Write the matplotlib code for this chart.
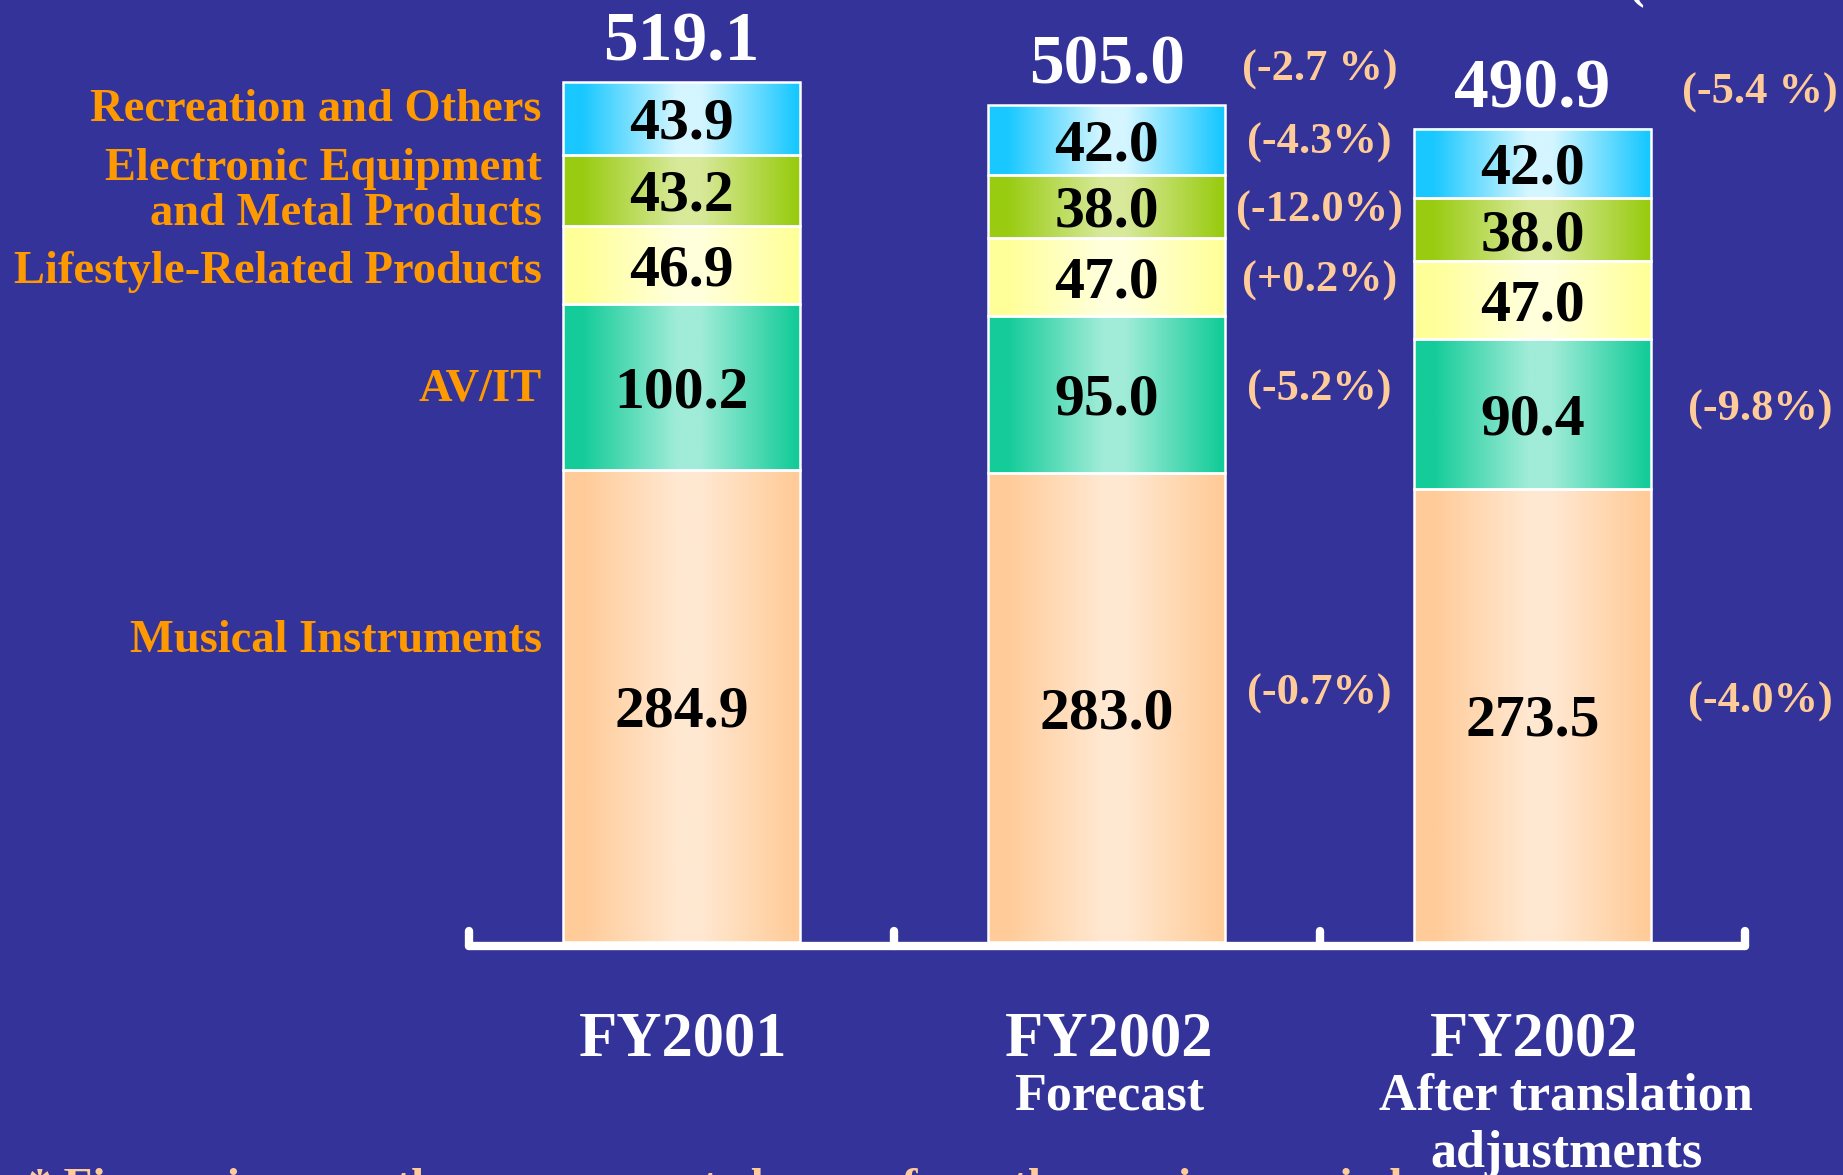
import numpy as np
import matplotlib.pyplot as plt
from matplotlib.colors import to_rgb

# net sales by business segment, billions of yen (stacked bottom to top)
segments = ["Musical Instruments", "AV/IT", "Lifestyle-Related Products",
            "Electronic Equipment\nand Metal Products", "Recreation and Others"]
periods = ["FY2001", "FY2002", "FY2002"]
period_notes = ["", "Forecast", "After translation\nadjustments"]

musical = [284.9, 283.0, 273.5]
av_it = [100.2, 95.0, 90.4]
lifestyle = [46.9, 47.0, 47.0]
electronic = [43.2, 38.0, 38.0]
recreation = [43.9, 42.0, 42.0]
totals = [519.1, 505.0, 490.9]

# change vs FY2001 (%), per segment bottom to top; None = not shown
chg_forecast = [-0.7, -5.2, 0.2, -12.0, -4.3]
chg_adjusted = [-4.0, -9.8, None, None, None]
chg_total = [None, -2.7, -5.4]

unit_note = "(Billions of yen)"
footnote = "* Figures in parentheses represent changes from the previous period"

BG = "#343399"
ORANGE = "#FF9900"
PEACH = "#FFCC99"
# (edge, centre) of each segment's horizontal gradient
seg_colors = [("#FFCB98", "#FFE8D1"), ("#14CC99", "#A0ECD8"), ("#FFFF99", "#FFFFDC"),
              ("#99CC11", "#D8E99A"), ("#19C8FF", "#D4F6FF")]

plt.rcParams["font.family"] = ["Liberation Serif", "DejaVu Serif"]
plt.rcParams["font.weight"] = "bold"

fig = plt.figure(figsize=(18.43, 11.75), dpi=100, facecolor=BG)
ax = fig.add_axes([0, 0, 1, 1])
ax.set_facecolor(BG)
ax.axis("off")

x = np.arange(len(periods))
width = 0.557

s = np.linspace(0, 1, 256)
ramp = np.clip((np.abs(s - 0.53) - 0.05) / 0.40, 0, 1)


def gradient(edge, centre):
    e, c = np.array(to_rgb(edge)), np.array(to_rgb(centre))
    return (c[None, :] * (1 - ramp[:, None]) + e[None, :] * ramp[:, None])[None, :, :]


stack = np.array([musical, av_it, lifestyle, electronic, recreation])
bottoms = np.vstack([np.zeros(len(periods)), np.cumsum(stack, axis=0)[:-1]])

for k in range(len(segments)):
    bars = ax.bar(x, stack[k], width, bottom=bottoms[k], fill=False,
                  edgecolor="white", linewidth=1.8, zorder=3)
    for i, bar in enumerate(bars):
        x0, y0 = bar.get_x(), bar.get_y()
        ax.imshow(gradient(*seg_colors[k]), extent=(x0, x0 + bar.get_width(), y0, y0 + bar.get_height()),
                  aspect="auto", interpolation="bilinear", zorder=2)
        ax.text(x[i], y0 + stack[k, i] / 2 - 12.4, f"{stack[k, i]:.1f}", ha="center",
                va="baseline", fontsize=43, color="black", zorder=4)

for i in range(len(periods)):
    ax.text(x[i], totals[i] + 13, f"{totals[i]:.1f}", ha="center", va="baseline",
            fontsize=50, color="white")

# baseline with end and divider ticks
base = -2.6
ax.plot([x[0] - 0.5, x[-1] + 0.5], [base, base], color="white", lw=6,
        solid_capstyle="round", zorder=1)
for t in np.arange(len(periods) + 1) - 0.5:
    ax.plot([t, t], [base, 6.6], color="white", lw=6, solid_capstyle="round", zorder=1)

# segment names on the left
label_base = [175.0, 327.1, 397.7, 432.7, 495.5]
label_x = x[0] - width / 2 - 0.05
for name, yb in zip(segments, label_base):
    lines = name.split("\n")
    for j, line in enumerate(lines):
        ax.text(label_x, yb + 27.2 * (len(lines) - 1 - j), line, ha="right", va="baseline",
                fontsize=33.5, color=ORANGE)

# percentage changes to the right of the FY2002 columns
lift = [11, 5, 0, 0, 1]
for i, chg, dx in [(1, chg_forecast, 0.5), (2, chg_adjusted, 0.535)]:
    for k, v in enumerate(chg):
        if v is None:
            continue
        mid = bottoms[k, i] + stack[k, i] / 2
        ax.text(x[i] + dx, mid - 9 + lift[k], f"({v:+.1f}%)", ha="center", va="baseline",
                fontsize=32, color=PEACH)
    ax.text(x[i] + dx, totals[i] + 15, f"({chg_total[i]:+.1f} %)", ha="center",
            va="baseline", fontsize=32, color=PEACH)

# period labels under the axis
note_dx = [0, 0.006, 0.079]
for i in range(len(periods)):
    ax.text(x[i] + 0.005, -68.2, periods[i], ha="center", va="baseline", fontsize=45,
            color="white")
    for j, line in enumerate(period_notes[i].split("\n")):
        if line:
            ax.text(x[i] + note_dx[i], -100.8 - 35 * j, line, ha="center", va="baseline",
                    fontsize=37.5, color="white")

ax.text(2.225, 570.5, unit_note, ha="left", va="baseline", fontsize=36, color="white",
        clip_on=False)
ax.text(-1.536, -155.5, footnote, ha="left", va="baseline", fontsize=34, color=PEACH,
        clip_on=False)

ax.set_xlim(-1.6016, 2.7298)
ax.set_ylim(-140.6, 568.5)

fig.savefig("out.png", dpi=100, facecolor=BG)
